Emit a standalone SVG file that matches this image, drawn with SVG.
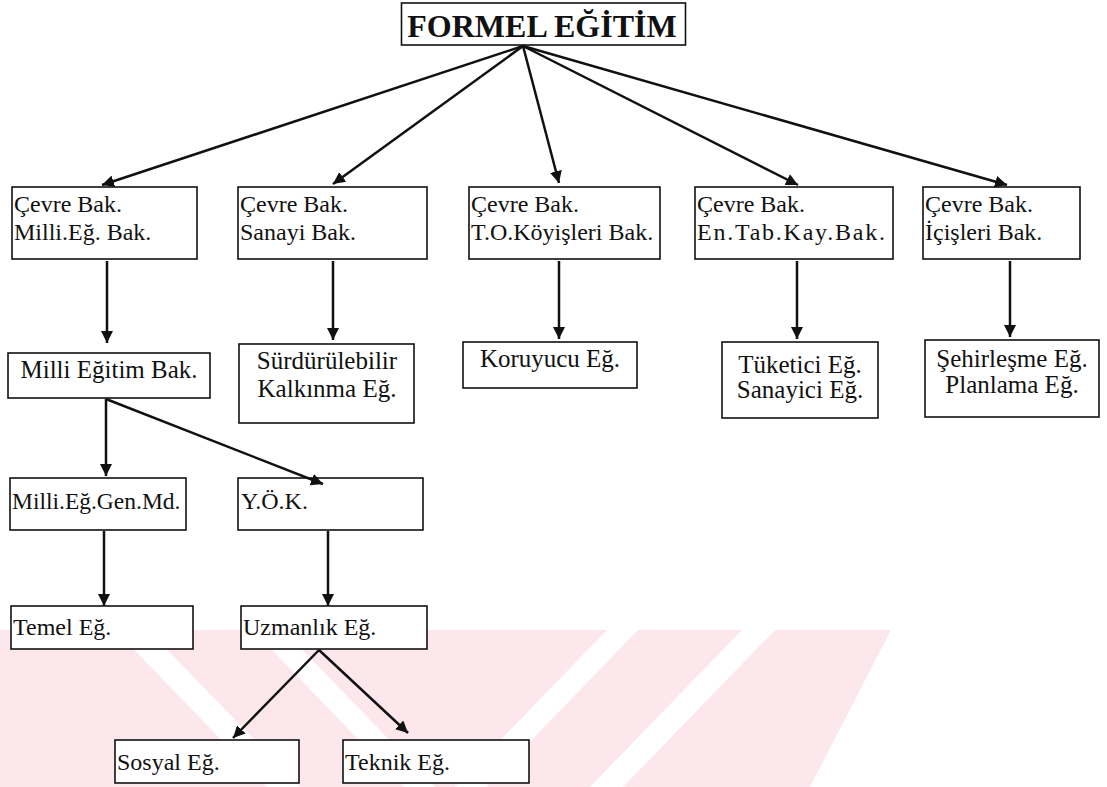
<svg xmlns="http://www.w3.org/2000/svg" width="1107" height="787" viewBox="0 0 1107 787">
<defs>
<marker id="ah" markerUnits="userSpaceOnUse" markerWidth="14" markerHeight="12" refX="12" refY="6" orient="auto">
<path d="M0,0 L12,6 L0,12 z" fill="#111"/>
</marker>
<style>
.box{fill:#fff;stroke:#111;stroke-width:1.6}
.t{font-family:"Liberation Serif","Times New Roman",serif;font-size:24px;fill:#111}
.m{text-anchor:middle;font-size:25px}
.title{text-anchor:middle;font-size:32px;font-weight:bold}
.sm{font-size:23.5px}
.c{stroke:#111;stroke-width:2.5;fill:none;marker-end:url(#ah)}
.wm{fill:#fce8ec}
.gap{fill:#fff}
</style>
</defs>
<rect width="1107" height="787" fill="#fff"/>
<g id="watermark">
<polygon class="wm" points="0,630 891,630 810,787 0,787"/>
<polygon class="gap" points="607,630 638,630 486,787 455,787"/>
<polygon class="gap" points="742,630 775,630 623,787 590,787"/>
<polygon class="gap" points="253,630 283,630 435,787 404,787"/>
<polygon class="gap" points="115,630 148,630 300,787 267,787"/>
</g>
<g id="formel">
<rect class="box" x="401.5" y="3" width="284" height="42"/>
<text class="t title" x="542" y="37">FORMEL EĞİTİM</text>
</g>
<g id="cevre-meb">
<rect class="box" x="12" y="187" width="185" height="72"/>
<text class="t" x="14" y="212">Çevre Bak.</text>
<text class="t" x="14" y="240">Milli.Eğ. Bak.</text>
</g>
<g id="cevre-sanayi">
<rect class="box" x="238" y="187" width="189" height="72"/>
<text class="t" x="240" y="212">Çevre Bak.</text>
<text class="t" x="240" y="240">Sanayi Bak.</text>
</g>
<g id="cevre-tok">
<rect class="box" x="469" y="187" width="191" height="72"/>
<text class="t" x="471" y="212">Çevre Bak.</text>
<text class="t" x="471" y="240">T.O.Köyişleri Bak.</text>
</g>
<g id="cevre-entab">
<rect class="box" x="695" y="187" width="198" height="72"/>
<text class="t" x="697" y="212">Çevre Bak.</text>
<text class="t" x="697" y="240" textLength="188" lengthAdjust="spacing">En.Tab.Kay.Bak.</text>
</g>
<g id="cevre-icisleri">
<rect class="box" x="923" y="187" width="157" height="72"/>
<text class="t" x="925" y="212">Çevre Bak.</text>
<text class="t" x="925" y="240">İçişleri Bak.</text>
</g>
<g id="meb">
<rect class="box" x="8" y="353" width="202" height="45"/>
<text class="t m" x="109" y="378">Milli Eğitim Bak.</text>
</g>
<g id="surdurulebilir">
<rect class="box" x="239" y="344" width="175" height="79"/>
<text class="t m" x="327" y="369">Sürdürülebilir</text>
<text class="t m" x="327" y="397">Kalkınma Eğ.</text>
</g>
<g id="koruyucu">
<rect class="box" x="463" y="342" width="174" height="46"/>
<text class="t m" x="550" y="367">Koruyucu Eğ.</text>
</g>
<g id="tuketici">
<rect class="box" x="722" y="342" width="156" height="76"/>
<text class="t m" x="800" y="373">Tüketici Eğ.</text>
<text class="t m" x="800" y="398">Sanayici Eğ.</text>
</g>
<g id="sehirlesme">
<rect class="box" x="925" y="340" width="174" height="77"/>
<text class="t m" x="1012" y="367">Şehirleşme Eğ.</text>
<text class="t m" x="1012" y="393">Planlama Eğ.</text>
</g>
<g id="megm">
<rect class="box" x="10" y="478" width="176" height="52"/>
<text class="t sm" x="12" y="509">Milli.Eğ.Gen.Md.</text>
</g>
<g id="yok">
<rect class="box" x="238" y="478" width="185" height="52"/>
<text class="t" x="241" y="509">Y.Ö.K.</text>
</g>
<g id="temel">
<rect class="box" x="11" y="606" width="182" height="43"/>
<text class="t" x="13" y="635">Temel Eğ.</text>
</g>
<g id="uzmanlik">
<rect class="box" x="241" y="606" width="186" height="43"/>
<text class="t" x="243" y="635">Uzmanlık Eğ.</text>
</g>
<g id="sosyal">
<rect class="box" x="115" y="740" width="184" height="43"/>
<text class="t" x="117" y="770">Sosyal Eğ.</text>
</g>
<g id="teknik">
<rect class="box" x="343" y="740" width="186" height="43"/>
<text class="t" x="345" y="770">Teknik Eğ.</text>
</g>
<g id="connectors">
<path class="c" d="M523,46 L102,185"/>
<path class="c" d="M523,46 L333,184"/>
<path class="c" d="M523,46 L559,183"/>
<path class="c" d="M523,46 L798,185"/>
<path class="c" d="M523,46 L1007,185"/>
<path class="c" d="M107,261 L107,343"/>
<path class="c" d="M333,261 L333,340"/>
<path class="c" d="M559,261 L559,339"/>
<path class="c" d="M797,261 L797,339"/>
<path class="c" d="M1010,261 L1010,337"/>
<path class="c" d="M106,399 L106,476"/>
<path class="c" d="M106,399 L323,484"/>
<path class="c" d="M104,531 L104,606"/>
<path class="c" d="M328,531 L328,606"/>
<path class="c" d="M319,650 L233,738"/>
<path class="c" d="M319,650 L408,733"/>
</g>
</svg>
